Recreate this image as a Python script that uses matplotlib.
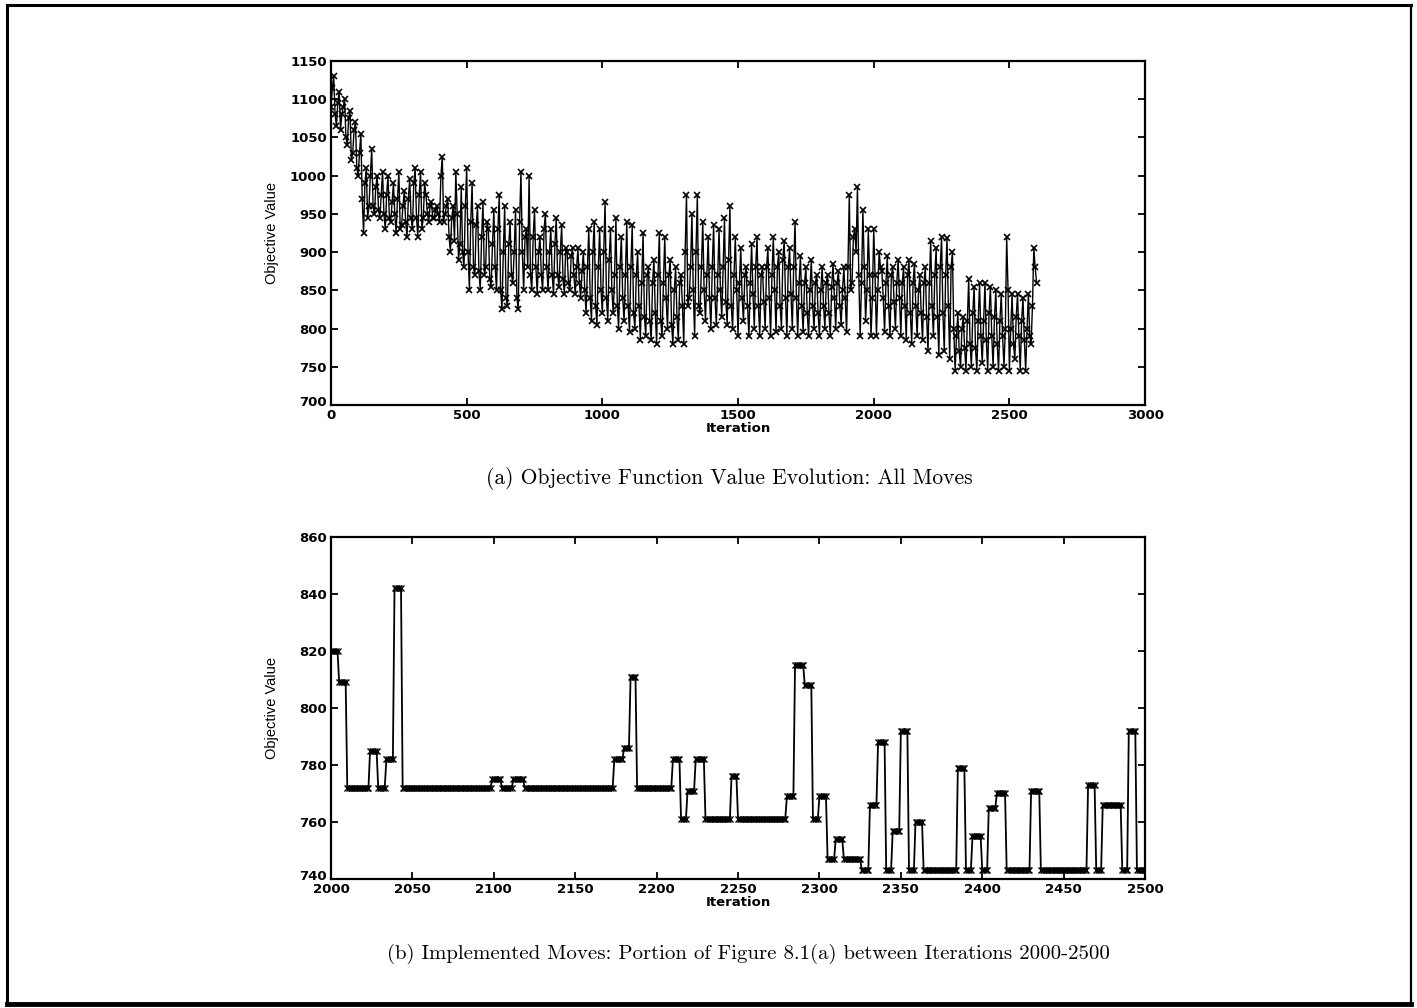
import numpy as np
import matplotlib
matplotlib.use("Agg")
import matplotlib.pyplot as plt
from matplotlib.lines import Line2D
from matplotlib.transforms import ScaledTranslation

# ---------------------------------------------------------------------------
# (a) all moves: objective value read every 10 iterations (0 .. 2600)
all_value = [
    1090, 1130, 1065, 1110, 1080, 1100, 1040, 1085, 1030, 1070,
    1000, 1055, 925, 1010, 960, 1035, 950, 1000, 945, 1005,
    930, 1000, 940, 990, 925, 1005, 935, 980, 920, 995,
    930, 1010, 920, 1005, 945, 975, 940, 965, 945, 960,
    940, 1025, 950, 970, 900, 960, 1005, 890, 985, 880,
    1010, 850, 990, 870, 960, 850, 965, 880, 930, 855,
    955, 850, 975, 825, 960, 830, 940, 860, 955, 825,
    1005, 850, 930, 1000, 850, 955, 845, 920, 850, 950,
    850, 930, 845, 945, 855, 935, 845, 900, 850, 905,
    845, 905, 840, 900, 820, 930, 810, 940, 805, 930,
    820, 965, 810, 930, 820, 945, 800, 920, 810, 940,
    795, 935, 800, 900, 785, 925, 790, 880, 785, 890,
    780, 925, 790, 920, 800, 890, 780, 880, 785, 870,
    780, 975, 840, 950, 790, 975, 820, 940, 810, 920,
    800, 935, 805, 930, 815, 945, 805, 960, 800, 920,
    790, 905, 810, 880, 790, 910, 800, 920, 790, 880,
    800, 905, 790, 920, 795, 900, 800, 915, 790, 905,
    800, 940, 790, 895, 795, 880, 790, 890, 800, 870,
    790, 880, 800, 870, 790, 885, 800, 875, 805, 880,
    795, 975, 860, 930, 985, 790, 955, 810, 930, 790,
    930, 790, 900, 875, 795, 895, 790, 880, 800, 890,
    790, 880, 785, 890, 780, 885, 790, 870, 785, 880,
    770, 915, 790, 905, 765, 920, 770, 918, 760, 900,
    745, 820, 750, 815, 745, 865, 750, 855, 745, 860,
    755, 860, 745, 855, 750, 850, 745, 845, 750, 920,
    745, 845, 760, 845, 745, 840, 745, 845, 780, 905, 860,
]
# values in between, at iterations 5, 15, ..., 2595
all_value_mid = [
    1115, 1080, 1095, 1060, 1090, 1050, 1075, 1020, 1060, 1010,
    1030, 970, 990, 945, 1000, 960, 985, 955, 975, 950,
    975, 945, 965, 950, 970, 930, 960, 940, 970, 945,
    990, 945, 975, 930, 990, 950, 960, 945, 955, 950,
    1000, 940, 960, 920, 945, 915, 950, 910, 900, 960,
    900, 940, 880, 935, 875, 920, 870, 940, 865, 910,
    880, 930, 850, 900, 840, 910, 870, 900, 840, 940,
    900, 920, 880, 870, 920, 880, 900, 870, 930, 880,
    900, 870, 910, 870, 900, 865, 905, 860, 895, 870,
    880, 860, 875, 850, 880, 840, 900, 830, 880, 850,
    900, 840, 890, 850, 870, 830, 880, 840, 870, 830,
    880, 820, 870, 830, 860, 815, 870, 810, 860, 820,
    870, 810, 860, 840, 870, 805, 850, 815, 860, 830,
    900, 830, 880, 850, 900, 830, 880, 850, 870, 840,
    880, 840, 870, 850, 880, 835, 890, 830, 870, 850,
    860, 840, 870, 830, 860, 845, 880, 830, 870, 835,
    880, 840, 870, 850, 880, 830, 890, 840, 880, 845,
    880, 840, 860, 830, 860, 820, 850, 830, 860, 820,
    850, 830, 860, 820, 855, 840, 860, 830, 850, 840,
    880, 850, 920, 900, 870, 860, 880, 850, 870, 840,
    870, 850, 880, 840, 860, 830, 870, 835, 860, 840,
    860, 830, 870, 820, 860, 830, 850, 820, 860, 815,
    860, 830, 870, 815, 880, 820, 870, 830, 880, 800,
    790, 770, 800, 775, 810, 780, 820, 775, 810, 790,
    810, 785, 820, 790, 815, 780, 810, 790, 800, 850,
    800, 780, 815, 790, 810, 785, 800, 790, 830, 880,
]

# (b) implemented moves 2000-2500: each run starts at an iteration and keeps a value
run_start = [2000, 2005, 2010, 2024, 2029, 2034, 2039, 2044, 2099, 2105,
             2112, 2119, 2174, 2180, 2184, 2188, 2210, 2215, 2219, 2224,
             2230, 2246, 2250, 2280, 2285, 2291, 2296, 2300, 2305, 2310,
             2315, 2326, 2331, 2336, 2341, 2345, 2350, 2355, 2359, 2364,
             2385, 2390, 2394, 2400, 2404, 2409, 2415, 2430, 2436, 2465,
             2470, 2474, 2486, 2490, 2495]
run_value = [820, 809, 772, 785, 772, 782, 842, 772, 775, 772,
             775, 772, 782, 786, 811, 772, 782, 761, 771, 782,
             761, 776, 761, 769, 815, 808, 761, 769, 747, 754,
             747, 743, 766, 788, 743, 757, 792, 743, 760, 743,
             779, 743, 755, 743, 765, 770, 743, 771, 743, 773,
             743, 766, 743, 792, 743]
last_iter = 2500

caption_a = "(a) Objective Function Value Evolution: All Moves"
caption_b = "(b) Implemented Moves: Portion of Figure 8.1(a) between Iterations 2000-2500"

# ---------------------------------------------------------------------------
plt.rcParams['font.family'] = ['DejaVu Sans']

fig = plt.figure(figsize=(14.17, 10.08), dpi=100)


def style_axes(ax):
    for s in ax.spines.values():
        s.set_linewidth(1.6)
    ax.tick_params(direction='in', top=True, right=True, length=5, width=1.3,
                   pad=3, labelsize=9.5)
    for lab in ax.get_xticklabels() + ax.get_yticklabels():
        lab.set_fontweight('bold')
    # lift the lowest y label a little so it clears the first x label
    low = ax.get_yticklabels()[0]
    low.set_transform(low.get_transform() + ScaledTranslation(0, 3 / 72, fig.dpi_scale_trans))
    ax.set_ylabel("Objective Value", fontsize=10.5,
                  family=['Liberation Sans Narrow', 'Liberation Sans'])
    ax.yaxis.set_label_coords(-0.064, 0.5)
    ax.set_xlabel("Iteration", fontsize=9.5, fontweight='bold', labelpad=0)


# --- top chart
all_y = np.empty(len(all_value) + len(all_value_mid))
all_y[0::2] = all_value
all_y[1::2] = all_value_mid
all_x = np.arange(len(all_y)) * 5
ax1 = fig.add_axes([0.2336, 0.5982, 0.5745, 0.3413])
ax1.plot(all_x, all_y, color='k', lw=1.0, marker='x', ms=5, mew=1.2)
ax1.set_xlim(0, 3000)
ax1.set_ylim(700, 1150)
ax1.set_xticks(np.arange(0, 3001, 500))
ax1.set_yticks(np.arange(700, 1151, 50))
style_axes(ax1)

# --- bottom chart
lengths = np.diff(run_start + [last_iter + 1])
imp_value = np.repeat(run_value, lengths)
imp_iter = np.arange(run_start[0], last_iter + 1)
ax2 = fig.add_axes([0.2336, 0.128, 0.5745, 0.3393])
ax2.plot(imp_iter, imp_value, color='k', lw=1.3, marker='x', ms=5, mew=1.0)
ax2.set_xlim(2000, 2500)
ax2.set_ylim(740, 860)
ax2.set_xticks(np.arange(2000, 2501, 50))
ax2.set_yticks(np.arange(740, 861, 20))
style_axes(ax2)

# captions
fig.text(0.515, 1 - 479 / 1008, caption_a, ha='center', va='center',
         fontsize=15.5, family='cmr10')
fig.text(0.528, 1 - 954 / 1008, caption_b, ha='center', va='center',
         fontsize=15, family='cmr10')

# page frame
W, H = 1417, 1008
frame = [((7, 5), (7, 1004), 2.2), ((7, 5), (1411, 5), 2.2),
         ((1411, 5), (1411, 1004), 1.6), ((7, 1004), (1411, 1004), 3.5)]
for (x0, y0), (x1, y1), lw in frame:
    fig.add_artist(Line2D([x0 / W, x1 / W], [1 - y0 / H, 1 - y1 / H],
                          color='k', lw=lw, transform=fig.transFigure))

fig.savefig("out.png", dpi=100)
